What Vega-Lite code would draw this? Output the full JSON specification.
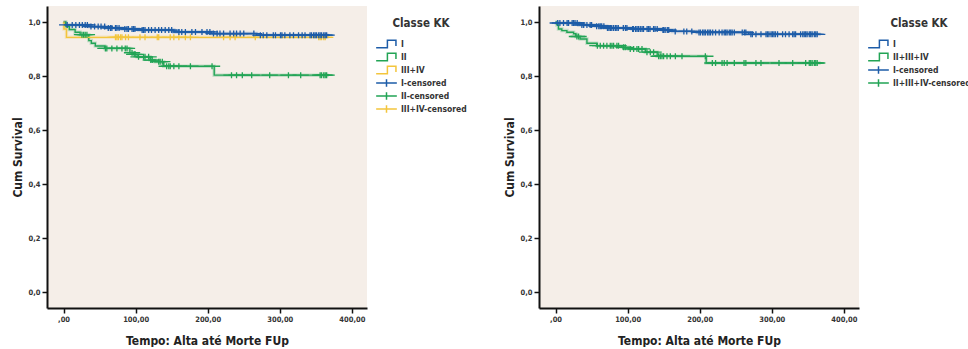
{
  "$schema": "https://vega.github.io/schema/vega-lite/v6.json",
  "padding": {"left": 11, "top": 6, "right": 0, "bottom": 0},
  "background": "#ffffff",
  "bounds": "flush",
  "spacing": 172,
  "datasets": {
    "left": [
      {"t":0,"s":1.0,"k":"I"},{"t":2.4,"s":0.990,"k":"I"},{"t":35,"s":0.984,"k":"I"},{"t":58,"s":0.979,"k":"I"},{"t":81,"s":0.975,"k":"I"},{"t":104,"s":0.971,"k":"I"},{"t":153,"s":0.964,"k":"I"},{"t":205,"s":0.958,"k":"I"},{"t":268,"s":0.952,"k":"I"},{"t":368,"s":0.952,"k":"I"},
      {"t":0,"s":1.0,"k":"II"},{"t":3.3,"s":0.984,"k":"II"},{"t":8,"s":0.973,"k":"II"},{"t":16,"s":0.963,"k":"II"},{"t":23,"s":0.954,"k":"II"},{"t":35,"s":0.932,"k":"II"},{"t":38.5,"s":0.922,"k":"II"},{"t":44,"s":0.912,"k":"II"},{"t":57,"s":0.903,"k":"II"},{"t":92,"s":0.887,"k":"II"},{"t":97,"s":0.881,"k":"II"},{"t":102,"s":0.872,"k":"II"},{"t":120,"s":0.860,"k":"II"},{"t":127,"s":0.854,"k":"II"},{"t":139,"s":0.837,"k":"II"},{"t":209,"s":0.804,"k":"II"},{"t":368,"s":0.804,"k":"II"},
      {"t":0,"s":1.0,"k":"III+IV"},{"t":0.5,"s":0.975,"k":"III+IV"},{"t":4,"s":0.944,"k":"III+IV"},{"t":368,"s":0.944,"k":"III+IV"},
      {"t":72,"s":0.944,"k":"III+IV-censored"},{"t":74,"s":0.944,"k":"III+IV-censored"},{"t":76,"s":0.944,"k":"III+IV-censored"},{"t":79,"s":0.944,"k":"III+IV-censored"},{"t":81,"s":0.944,"k":"III+IV-censored"},{"t":86,"s":0.944,"k":"III+IV-censored"},{"t":90,"s":0.944,"k":"III+IV-censored"},{"t":106,"s":0.944,"k":"III+IV-censored"},{"t":113,"s":0.944,"k":"III+IV-censored"},{"t":130,"s":0.944,"k":"III+IV-censored"},{"t":132,"s":0.944,"k":"III+IV-censored"},{"t":148,"s":0.944,"k":"III+IV-censored"},{"t":153,"s":0.944,"k":"III+IV-censored"},{"t":160,"s":0.944,"k":"III+IV-censored"},{"t":169,"s":0.944,"k":"III+IV-censored"},{"t":176,"s":0.944,"k":"III+IV-censored"},{"t":222,"s":0.944,"k":"III+IV-censored"},{"t":231,"s":0.944,"k":"III+IV-censored"},{"t":238,"s":0.944,"k":"III+IV-censored"},{"t":266,"s":0.944,"k":"III+IV-censored"},{"t":354,"s":0.944,"k":"III+IV-censored"},{"t":356,"s":0.944,"k":"III+IV-censored"},{"t":358,"s":0.944,"k":"III+IV-censored"},{"t":361,"s":0.944,"k":"III+IV-censored"},{"t":363,"s":0.944,"k":"III+IV-censored"},
      {"t":25.5,"s":0.954,"k":"II-censored"},{"t":27.8,"s":0.954,"k":"II-censored"},{"t":30,"s":0.954,"k":"II-censored"},{"t":32.4,"s":0.954,"k":"II-censored"},{"t":58,"s":0.903,"k":"II-censored"},{"t":60,"s":0.903,"k":"II-censored"},{"t":67,"s":0.903,"k":"II-censored"},{"t":74,"s":0.903,"k":"II-censored"},{"t":81,"s":0.903,"k":"II-censored"},{"t":85.6,"s":0.903,"k":"II-censored"},{"t":88,"s":0.903,"k":"II-censored"},{"t":95,"s":0.887,"k":"II-censored"},{"t":98,"s":0.881,"k":"II-censored"},{"t":99.4,"s":0.881,"k":"II-censored"},{"t":104,"s":0.872,"k":"II-censored"},{"t":111,"s":0.872,"k":"II-censored"},{"t":113,"s":0.872,"k":"II-censored"},{"t":118,"s":0.872,"k":"II-censored"},{"t":121,"s":0.860,"k":"II-censored"},{"t":123,"s":0.860,"k":"II-censored"},{"t":132,"s":0.854,"k":"II-censored"},{"t":134,"s":0.854,"k":"II-censored"},{"t":137,"s":0.854,"k":"II-censored"},{"t":143,"s":0.837,"k":"II-censored"},{"t":146,"s":0.837,"k":"II-censored"},{"t":148,"s":0.837,"k":"II-censored"},{"t":153,"s":0.837,"k":"II-censored"},{"t":160,"s":0.837,"k":"II-censored"},{"t":176,"s":0.837,"k":"II-censored"},{"t":206,"s":0.837,"k":"II-censored"},{"t":233,"s":0.804,"k":"II-censored"},{"t":240,"s":0.804,"k":"II-censored"},{"t":248,"s":0.804,"k":"II-censored"},{"t":261,"s":0.804,"k":"II-censored"},{"t":286,"s":0.804,"k":"II-censored"},{"t":312,"s":0.804,"k":"II-censored"},{"t":329,"s":0.804,"k":"II-censored"},{"t":356,"s":0.804,"k":"II-censored"},{"t":358,"s":0.804,"k":"II-censored"},{"t":361,"s":0.804,"k":"II-censored"},{"t":363,"s":0.804,"k":"II-censored"},{"t":365,"s":0.804,"k":"II-censored"},
      {"t":5,"s":0.990,"k":"I-censored"},{"t":12,"s":0.990,"k":"I-censored"},{"t":17,"s":0.990,"k":"I-censored"},{"t":22,"s":0.990,"k":"I-censored"},{"t":26,"s":0.990,"k":"I-censored"},{"t":30,"s":0.990,"k":"I-censored"},{"t":33,"s":0.990,"k":"I-censored"},{"t":38,"s":0.984,"k":"I-censored"},{"t":43,"s":0.984,"k":"I-censored"},{"t":48,"s":0.984,"k":"I-censored"},{"t":52,"s":0.984,"k":"I-censored"},{"t":57,"s":0.984,"k":"I-censored"},{"t":62,"s":0.979,"k":"I-censored"},{"t":65,"s":0.979,"k":"I-censored"},{"t":67,"s":0.979,"k":"I-censored"},{"t":72,"s":0.979,"k":"I-censored"},{"t":74,"s":0.979,"k":"I-censored"},{"t":77,"s":0.979,"k":"I-censored"},{"t":85,"s":0.975,"k":"I-censored"},{"t":88,"s":0.975,"k":"I-censored"},{"t":90,"s":0.975,"k":"I-censored"},{"t":95,"s":0.975,"k":"I-censored"},{"t":97,"s":0.975,"k":"I-censored"},{"t":99,"s":0.975,"k":"I-censored"},{"t":109,"s":0.971,"k":"I-censored"},{"t":111,"s":0.971,"k":"I-censored"},{"t":113,"s":0.971,"k":"I-censored"},{"t":118,"s":0.971,"k":"I-censored"},{"t":122,"s":0.971,"k":"I-censored"},{"t":127,"s":0.971,"k":"I-censored"},{"t":132,"s":0.971,"k":"I-censored"},{"t":136,"s":0.971,"k":"I-censored"},{"t":141,"s":0.971,"k":"I-censored"},{"t":146,"s":0.971,"k":"I-censored"},{"t":150,"s":0.971,"k":"I-censored"},{"t":160,"s":0.964,"k":"I-censored"},{"t":164,"s":0.964,"k":"I-censored"},{"t":169,"s":0.964,"k":"I-censored"},{"t":178,"s":0.964,"k":"I-censored"},{"t":183,"s":0.964,"k":"I-censored"},{"t":192,"s":0.964,"k":"I-censored"},{"t":199,"s":0.964,"k":"I-censored"},{"t":203,"s":0.964,"k":"I-censored"},{"t":208,"s":0.958,"k":"I-censored"},{"t":213,"s":0.958,"k":"I-censored"},{"t":217,"s":0.958,"k":"I-censored"},{"t":222,"s":0.958,"k":"I-censored"},{"t":231,"s":0.958,"k":"I-censored"},{"t":236,"s":0.958,"k":"I-censored"},{"t":240,"s":0.958,"k":"I-censored"},{"t":245,"s":0.958,"k":"I-censored"},{"t":250,"s":0.958,"k":"I-censored"},{"t":264,"s":0.958,"k":"I-censored"},{"t":273,"s":0.952,"k":"I-censored"},{"t":277,"s":0.952,"k":"I-censored"},{"t":282,"s":0.952,"k":"I-censored"},{"t":291,"s":0.952,"k":"I-censored"},{"t":294,"s":0.952,"k":"I-censored"},{"t":301,"s":0.952,"k":"I-censored"},{"t":303,"s":0.952,"k":"I-censored"},{"t":307,"s":0.952,"k":"I-censored"},{"t":314,"s":0.952,"k":"I-censored"},{"t":319,"s":0.952,"k":"I-censored"},{"t":326,"s":0.952,"k":"I-censored"},{"t":331,"s":0.952,"k":"I-censored"},{"t":335,"s":0.952,"k":"I-censored"},{"t":342,"s":0.952,"k":"I-censored"},{"t":344,"s":0.952,"k":"I-censored"},{"t":347,"s":0.952,"k":"I-censored"},{"t":349,"s":0.952,"k":"I-censored"},{"t":351,"s":0.952,"k":"I-censored"},{"t":354,"s":0.952,"k":"I-censored"},{"t":356,"s":0.952,"k":"I-censored"},{"t":358,"s":0.952,"k":"I-censored"},{"t":361,"s":0.952,"k":"I-censored"},{"t":363,"s":0.952,"k":"I-censored"},{"t":365,"s":0.952,"k":"I-censored"}
    ],
    "right": [
      {"t":0,"s":1.0,"k":"I"},{"t":1,"s":0.997,"k":"I"},{"t":32,"s":0.990,"k":"I"},{"t":55,"s":0.985,"k":"I"},{"t":71,"s":0.979,"k":"I"},{"t":106,"s":0.975,"k":"I"},{"t":148,"s":0.971,"k":"I"},{"t":162,"s":0.966,"k":"I"},{"t":196,"s":0.962,"k":"I"},{"t":268,"s":0.955,"k":"I"},{"t":368,"s":0.955,"k":"I"},
      {"t":0,"s":1.0,"k":"II+III+IV"},{"t":1.8,"s":0.990,"k":"II+III+IV"},{"t":4,"s":0.975,"k":"II+III+IV"},{"t":8.7,"s":0.969,"k":"II+III+IV"},{"t":15.7,"s":0.963,"k":"II+III+IV"},{"t":25,"s":0.957,"k":"II+III+IV"},{"t":28,"s":0.947,"k":"II+III+IV"},{"t":34,"s":0.938,"k":"II+III+IV"},{"t":43.5,"s":0.922,"k":"II+III+IV"},{"t":57,"s":0.913,"k":"II+III+IV"},{"t":92,"s":0.907,"k":"II+III+IV"},{"t":101,"s":0.901,"k":"II+III+IV"},{"t":124.5,"s":0.889,"k":"II+III+IV"},{"t":141,"s":0.874,"k":"II+III+IV"},{"t":209,"s":0.849,"k":"II+III+IV"},{"t":368,"s":0.849,"k":"II+III+IV"},
      {"t":29.6,"s":0.947,"k":"II+III+IV-censored"},{"t":31.9,"s":0.947,"k":"II+III+IV-censored"},{"t":58,"s":0.913,"k":"II+III+IV-censored"},{"t":62,"s":0.913,"k":"II+III+IV-censored"},{"t":66.6,"s":0.913,"k":"II+III+IV-censored"},{"t":71.2,"s":0.913,"k":"II+III+IV-censored"},{"t":75.9,"s":0.913,"k":"II+III+IV-censored"},{"t":78.2,"s":0.913,"k":"II+III+IV-censored"},{"t":80.5,"s":0.913,"k":"II+III+IV-censored"},{"t":85.1,"s":0.913,"k":"II+III+IV-censored"},{"t":87.4,"s":0.913,"k":"II+III+IV-censored"},{"t":94.4,"s":0.907,"k":"II+III+IV-censored"},{"t":96.7,"s":0.907,"k":"II+III+IV-censored"},{"t":103.6,"s":0.901,"k":"II+III+IV-censored"},{"t":108.3,"s":0.901,"k":"II+III+IV-censored"},{"t":112.9,"s":0.901,"k":"II+III+IV-censored"},{"t":115.2,"s":0.901,"k":"II+III+IV-censored"},{"t":119.9,"s":0.901,"k":"II+III+IV-censored"},{"t":126.8,"s":0.889,"k":"II+III+IV-censored"},{"t":131.4,"s":0.889,"k":"II+III+IV-censored"},{"t":136,"s":0.889,"k":"II+III+IV-censored"},{"t":143,"s":0.874,"k":"II+III+IV-censored"},{"t":145.3,"s":0.874,"k":"II+III+IV-censored"},{"t":147.6,"s":0.874,"k":"II+III+IV-censored"},{"t":149.9,"s":0.874,"k":"II+III+IV-censored"},{"t":154.6,"s":0.874,"k":"II+III+IV-censored"},{"t":159.2,"s":0.874,"k":"II+III+IV-censored"},{"t":166.2,"s":0.874,"k":"II+III+IV-censored"},{"t":175.4,"s":0.874,"k":"II+III+IV-censored"},{"t":207.8,"s":0.874,"k":"II+III+IV-censored"},{"t":217.5,"s":0.849,"k":"II+III+IV-censored"},{"t":222,"s":0.849,"k":"II+III+IV-censored"},{"t":231,"s":0.849,"k":"II+III+IV-censored"},{"t":234,"s":0.849,"k":"II+III+IV-censored"},{"t":238,"s":0.849,"k":"II+III+IV-censored"},{"t":248,"s":0.849,"k":"II+III+IV-censored"},{"t":261.5,"s":0.849,"k":"II+III+IV-censored"},{"t":264,"s":0.849,"k":"II+III+IV-censored"},{"t":278,"s":0.849,"k":"II+III+IV-censored"},{"t":285,"s":0.849,"k":"II+III+IV-censored"},{"t":310,"s":0.849,"k":"II+III+IV-censored"},{"t":329,"s":0.849,"k":"II+III+IV-censored"},{"t":347,"s":0.849,"k":"II+III+IV-censored"},{"t":352,"s":0.849,"k":"II+III+IV-censored"},{"t":354,"s":0.849,"k":"II+III+IV-censored"},{"t":356,"s":0.849,"k":"II+III+IV-censored"},{"t":359,"s":0.849,"k":"II+III+IV-censored"},{"t":361,"s":0.849,"k":"II+III+IV-censored"},{"t":363,"s":0.849,"k":"II+III+IV-censored"},
      {"t":3,"s":0.997,"k":"I-censored"},{"t":6,"s":0.997,"k":"I-censored"},{"t":11,"s":0.997,"k":"I-censored"},{"t":16,"s":0.997,"k":"I-censored"},{"t":18,"s":0.997,"k":"I-censored"},{"t":23,"s":0.997,"k":"I-censored"},{"t":25,"s":0.997,"k":"I-censored"},{"t":27,"s":0.997,"k":"I-censored"},{"t":30,"s":0.997,"k":"I-censored"},{"t":36.5,"s":0.990,"k":"I-censored"},{"t":39,"s":0.990,"k":"I-censored"},{"t":43.5,"s":0.990,"k":"I-censored"},{"t":48,"s":0.990,"k":"I-censored"},{"t":50,"s":0.990,"k":"I-censored"},{"t":57,"s":0.985,"k":"I-censored"},{"t":60,"s":0.985,"k":"I-censored"},{"t":62,"s":0.985,"k":"I-censored"},{"t":64,"s":0.985,"k":"I-censored"},{"t":67,"s":0.985,"k":"I-censored"},{"t":72,"s":0.979,"k":"I-censored"},{"t":74,"s":0.979,"k":"I-censored"},{"t":76,"s":0.979,"k":"I-censored"},{"t":78,"s":0.979,"k":"I-censored"},{"t":80.5,"s":0.979,"k":"I-censored"},{"t":83,"s":0.979,"k":"I-censored"},{"t":85,"s":0.979,"k":"I-censored"},{"t":87,"s":0.979,"k":"I-censored"},{"t":94,"s":0.979,"k":"I-censored"},{"t":97,"s":0.979,"k":"I-censored"},{"t":99,"s":0.979,"k":"I-censored"},{"t":107,"s":0.975,"k":"I-censored"},{"t":108,"s":0.975,"k":"I-censored"},{"t":111,"s":0.975,"k":"I-censored"},{"t":113,"s":0.975,"k":"I-censored"},{"t":115,"s":0.975,"k":"I-censored"},{"t":117.5,"s":0.975,"k":"I-censored"},{"t":120,"s":0.975,"k":"I-censored"},{"t":122,"s":0.975,"k":"I-censored"},{"t":127,"s":0.975,"k":"I-censored"},{"t":129,"s":0.975,"k":"I-censored"},{"t":131,"s":0.975,"k":"I-censored"},{"t":136,"s":0.975,"k":"I-censored"},{"t":138,"s":0.975,"k":"I-censored"},{"t":141,"s":0.975,"k":"I-censored"},{"t":149,"s":0.971,"k":"I-censored"},{"t":150,"s":0.971,"k":"I-censored"},{"t":152,"s":0.971,"k":"I-censored"},{"t":155,"s":0.971,"k":"I-censored"},{"t":157,"s":0.971,"k":"I-censored"},{"t":166,"s":0.966,"k":"I-censored"},{"t":178,"s":0.966,"k":"I-censored"},{"t":182,"s":0.966,"k":"I-censored"},{"t":189,"s":0.966,"k":"I-censored"},{"t":199,"s":0.962,"k":"I-censored"},{"t":201,"s":0.962,"k":"I-censored"},{"t":204,"s":0.962,"k":"I-censored"},{"t":206,"s":0.962,"k":"I-censored"},{"t":208,"s":0.962,"k":"I-censored"},{"t":211,"s":0.962,"k":"I-censored"},{"t":213,"s":0.962,"k":"I-censored"},{"t":215,"s":0.962,"k":"I-censored"},{"t":218,"s":0.962,"k":"I-censored"},{"t":222,"s":0.962,"k":"I-censored"},{"t":227,"s":0.962,"k":"I-censored"},{"t":231,"s":0.962,"k":"I-censored"},{"t":234,"s":0.962,"k":"I-censored"},{"t":236,"s":0.962,"k":"I-censored"},{"t":238,"s":0.962,"k":"I-censored"},{"t":241,"s":0.962,"k":"I-censored"},{"t":243,"s":0.962,"k":"I-censored"},{"t":245,"s":0.962,"k":"I-censored"},{"t":248,"s":0.962,"k":"I-censored"},{"t":259,"s":0.962,"k":"I-censored"},{"t":262,"s":0.962,"k":"I-censored"},{"t":264,"s":0.962,"k":"I-censored"},{"t":271,"s":0.955,"k":"I-censored"},{"t":273,"s":0.955,"k":"I-censored"},{"t":278,"s":0.955,"k":"I-censored"},{"t":285,"s":0.955,"k":"I-censored"},{"t":292,"s":0.955,"k":"I-censored"},{"t":294,"s":0.955,"k":"I-censored"},{"t":296,"s":0.955,"k":"I-censored"},{"t":299,"s":0.955,"k":"I-censored"},{"t":301,"s":0.955,"k":"I-censored"},{"t":303,"s":0.955,"k":"I-censored"},{"t":305,"s":0.955,"k":"I-censored"},{"t":308,"s":0.955,"k":"I-censored"},{"t":315,"s":0.955,"k":"I-censored"},{"t":319,"s":0.955,"k":"I-censored"},{"t":324,"s":0.955,"k":"I-censored"},{"t":329,"s":0.955,"k":"I-censored"},{"t":331,"s":0.955,"k":"I-censored"},{"t":333,"s":0.955,"k":"I-censored"},{"t":340,"s":0.955,"k":"I-censored"},{"t":343,"s":0.955,"k":"I-censored"},{"t":345,"s":0.955,"k":"I-censored"},{"t":347,"s":0.955,"k":"I-censored"},{"t":349,"s":0.955,"k":"I-censored"},{"t":352,"s":0.955,"k":"I-censored"},{"t":354,"s":0.955,"k":"I-censored"},{"t":356,"s":0.955,"k":"I-censored"},{"t":359,"s":0.955,"k":"I-censored"},{"t":361,"s":0.955,"k":"I-censored"},{"t":363,"s":0.955,"k":"I-censored"}
    ]
  },
  "hconcat": [
    {
      "width": 320,
      "height": 302,
      "data": {"name": "left"},
      "encoding": {
        "x": {"field": "t", "type": "quantitative", "scale": {"domain": [-23, 421], "nice": false, "zero": false}, "axis": {"title": "Tempo: Alta até Morte FUp", "values": [0, 100, 200, 300, 400], "labelExpr": "datum.value == 0 ? ',00' : replace(format(datum.value, '.2f'), '.', ',')"}},
        "y": {"field": "s", "type": "quantitative", "scale": {"domain": [-0.058, 1.06], "nice": false, "zero": false}, "axis": {"title": "Cum Survival", "values": [0, 0.2, 0.4, 0.6, 0.8, 1.0], "labelExpr": "replace(format(datum.value, '.1f'), '.', ',')"}}
      },
      "layer": [
        {
          "transform": [{"filter": "indexof(datum.k, 'censored') < 0"}],
          "mark": {"type": "line", "interpolate": "step-after", "strokeWidth": 3.5, "opacity": 0.22},
          "encoding": {"color": {"field": "k", "type": "nominal", "title": "Classe KK", "scale": {"domain": ["I", "II", "III+IV", "I-censored", "II-censored", "III+IV-censored"], "range": ["#1d5ca8", "#22a455", "#f3c53c", "#1d5ca8", "#22a455", "#f3c53c"]}}}
        },
        {
          "transform": [{"filter": "indexof(datum.k, 'censored') < 0"}],
          "mark": {"type": "line", "interpolate": "step-after", "strokeWidth": 1.4},
          "encoding": {"color": {"field": "k", "type": "nominal", "title": "Classe KK"}}
        },
        {
          "transform": [{"filter": "indexof(datum.k, 'censored') >= 0"}],
          "mark": {"type": "point", "filled": false, "size": 50, "strokeWidth": 1.3, "opacity": 1},
          "encoding": {
            "color": {"field": "k", "type": "nominal", "title": "Classe KK"},
            "shape": {"field": "k", "type": "nominal", "title": "Classe KK", "scale": {"domain": ["I", "II", "III+IV", "I-censored", "II-censored", "III+IV-censored"], "range": ["M-2.3,0.85H0.2V-0.85H2.1V0.45", "M-2.3,0.85H0.2V-0.85H2.1V0.45", "M-2.3,0.85H0.2V-0.85H2.1V0.45", "M-2.3,0H2.3M0,-0.85V0.85", "M-2.3,0H2.3M0,-0.85V0.85", "M-2.3,0H2.3M0,-0.85V0.85"]}}
          }
        }
      ]
    },
    {
      "width": 320,
      "height": 302,
      "data": {"name": "right"},
      "encoding": {
        "x": {"field": "t", "type": "quantitative", "scale": {"domain": [-23, 421], "nice": false, "zero": false}, "axis": {"title": "Tempo: Alta até Morte FUp", "values": [0, 100, 200, 300, 400], "labelExpr": "datum.value == 0 ? ',00' : replace(format(datum.value, '.2f'), '.', ',')"}},
        "y": {"field": "s", "type": "quantitative", "scale": {"domain": [-0.058, 1.06], "nice": false, "zero": false}, "axis": {"title": "Cum Survival", "values": [0, 0.2, 0.4, 0.6, 0.8, 1.0], "labelExpr": "replace(format(datum.value, '.1f'), '.', ',')"}}
      },
      "layer": [
        {
          "transform": [{"filter": "indexof(datum.k, 'censored') < 0"}],
          "mark": {"type": "line", "interpolate": "step-after", "strokeWidth": 3.5, "opacity": 0.22},
          "encoding": {"color": {"field": "k", "type": "nominal", "title": "Classe KK", "scale": {"domain": ["I", "II+III+IV", "I-censored", "II+III+IV-censored"], "range": ["#1d5ca8", "#22a455", "#1d5ca8", "#22a455"]}}}
        },
        {
          "transform": [{"filter": "indexof(datum.k, 'censored') < 0"}],
          "mark": {"type": "line", "interpolate": "step-after", "strokeWidth": 1.4},
          "encoding": {"color": {"field": "k", "type": "nominal", "title": "Classe KK"}}
        },
        {
          "transform": [{"filter": "indexof(datum.k, 'censored') >= 0"}],
          "mark": {"type": "point", "filled": false, "size": 50, "strokeWidth": 1.3, "opacity": 1},
          "encoding": {
            "color": {"field": "k", "type": "nominal", "title": "Classe KK"},
            "shape": {"field": "k", "type": "nominal", "title": "Classe KK", "scale": {"domain": ["I", "II+III+IV", "I-censored", "II+III+IV-censored"], "range": ["M-2.3,0.85H0.2V-0.85H2.1V0.45", "M-2.3,0.85H0.2V-0.85H2.1V0.45", "M-2.3,0H2.3M0,-0.85V0.85", "M-2.3,0H2.3M0,-0.85V0.85"]}}
          }
        }
      ]
    }
  ],
  "resolve": {"scale": {"color": "independent", "shape": "independent"}, "legend": {"color": "independent", "shape": "independent"}},
  "config": {
    "font": "DejaVu Sans Condensed",
    "view": {"fill": "#f5eee8", "stroke": null},
    "axis": {
      "grid": false,
      "domainColor": "#111111",
      "domainWidth": 2,
      "tickColor": "#111111",
      "tickWidth": 1.5,
      "tickSize": 5,
      "labelFont": "DejaVu Sans Condensed",
      "labelFontSize": 7.5,
      "labelFontWeight": "bold",
      "labelColor": "#333333",
      "labelPadding": 2,
      "titleFont": "DejaVu Sans Condensed",
      "titleFontSize": 12,
      "titleFontWeight": "bold",
      "titleColor": "#222222"
    },
    "axisX": {"titlePadding": 13, "labelFlush": false},
    "axisY": {"titlePadding": 4},
    "legend": {
      "orient": "right",
      "offset": -4,
      "padding": 12,
      "titleFont": "DejaVu Sans Condensed",
      "titleFontSize": 11.5,
      "titleFontWeight": "bold",
      "titleColor": "#333333",
      "titleAnchor": "middle",
      "titlePadding": 9,
      "labelFont": "DejaVu Sans Condensed",
      "labelFontSize": 8.5,
      "labelFontWeight": "bold",
      "labelColor": "#333333",
      "labelOffset": 9,
      "symbolSize": 81,
      "symbolOffset": 6,
      "symbolStrokeWidth": 1.5,
      "symbolOpacity": 1,
      "symbolFillColor": "transparent",
      "rowPadding": -7
    }
  }
}
